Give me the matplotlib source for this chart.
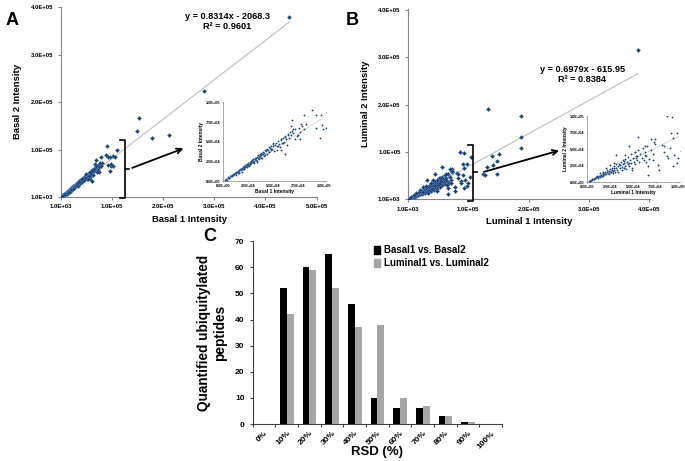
import matplotlib
matplotlib.use("Agg")
import matplotlib.pyplot as plt
from matplotlib.patches import Patch
import numpy as np

plt.rcParams['font.family'] = ['Liberation Sans', 'DejaVu Sans']
plt.rcParams['font.weight'] = 'bold'
plt.rcParams['axes.labelweight'] = 'bold'

# ---- panel A : basal replicates (thousands) ----
basal1 = [2, 3, 4, 5, 5, 6, 7, 8, 8, 9, 10, 10, 11, 12, 12, 13, 13, 14, 15, 15, 16, 16, 17, 18, 18, 19, 19, 20, 20,
          21, 21, 22, 22, 23, 23, 24, 24, 25, 25, 26, 26, 27, 27, 28, 28, 29, 29, 30, 30, 31, 31, 32, 32, 33, 33,
          34, 34, 35, 35, 36, 36, 37, 37, 38, 38, 39, 39, 40, 40, 41, 42, 42, 43, 44, 44, 45, 46, 46, 47, 48, 48,
          49, 50, 50, 51, 52, 53, 54, 55, 56, 57, 58, 59, 60, 61, 62, 63, 64, 65, 66, 67, 68, 69, 70, 72, 73, 75,
          76, 78, 80, 82,
          103, 97, 99, 92, 77, 69, 68, 70, 74, 76, 72, 65, 62, 60, 58, 55, 58, 62, 54, 50, 48, 46, 43, 41, 38, 36,
          34, 32, 30, 27, 25, 24, 21, 19, 16, 13, 9, 6, 3,
          90, 88, 110, 106, 98, 102, 96, 92, 80,
          447, 280, 153, 149, 178, 212]
basal2 = [1, 3, 2, 4, 5, 4, 6, 6, 7, 8, 8, 9, 9, 10, 11, 10, 12, 12, 13, 11, 14, 12, 15, 14, 16, 15, 17, 16, 18,
          17, 19, 18, 20, 19, 21, 20, 22, 21, 23, 22, 19, 24, 22, 23, 25, 24, 27, 25, 28, 26, 23, 28, 30, 27, 29,
          31, 26, 30, 33, 31, 28, 34, 32, 33, 36, 30, 35, 37, 34, 36, 33, 39, 38, 35, 41, 40, 37, 43, 42, 39, 45,
          41, 47, 44, 38, 46, 49, 45, 51, 47, 43, 52, 48, 55, 50, 57, 53, 46, 59, 55, 62, 58, 64, 61, 66, 57, 68,
          63, 70, 66, 73,
          88, 84, 66, 68, 73, 78, 70, 66, 58, 54, 53, 60, 56, 49, 54, 45, 39, 35, 39, 49, 41, 37, 39, 32, 30, 32,
          24, 28, 24, 22, 20, 18, 16, 12, 11, 8, 6, 4, 2,
          109, 90, 100, 84, 71, 67, 55, 84, 84,
          379, 223, 168, 139, 124, 131]

# ---- panel B : luminal replicates (thousands) ----
luminal1 = [2, 3, 4, 5, 6, 7, 8, 9, 10, 10, 11, 12, 12, 13, 14, 14, 15, 15, 16, 17, 17, 18, 18, 19, 20, 20, 21,
            22, 22, 23, 24, 24, 25, 25, 26, 27, 27, 28, 28, 29, 30, 30, 31, 32, 32, 33, 34, 34, 35, 36, 36, 37,
            38, 38, 39, 40, 40, 41, 42, 42, 43, 44, 45, 45, 46, 47, 48, 48, 49, 50, 51, 52, 53, 54, 55, 56, 57,
            58, 60, 61, 62, 63, 65, 66, 68, 70, 72, 74,
            93, 98, 74, 73, 82, 91, 84, 95, 88, 98, 100, 94, 56, 46, 53, 63, 65, 67, 54, 42, 39, 32, 30, 25, 21,
            26, 18, 14, 11, 5, 3, 46, 49, 40, 67, 79, 72,
            87, 104, 92, 94, 84, 103, 89, 78, 70, 64, 55,
            381, 133, 187, 187, 187, 151, 139, 148, 142, 131, 124, 128, 148]
luminal2 = [1, 2, 3, 3, 4, 4, 5, 6, 6, 8, 7, 8, 6, 9, 8, 10, 9, 11, 10, 12, 9, 11, 14, 12, 13, 16, 12,
            15, 18, 14, 17, 12, 16, 20, 15, 19, 22, 17, 14, 21, 18, 24, 16, 22, 27, 19, 24, 15, 28, 21, 26, 30,
            23, 18, 27, 32, 22, 29, 25, 35, 20, 31, 27, 38, 24, 33, 29, 42, 22, 36, 31, 45, 27, 39, 34, 48, 30,
            43, 37, 52, 33, 46, 40, 55, 35, 48, 42, 58,
            99, 74, 65, 61, 56, 51, 46, 41, 39, 29, 36, 24, 69, 54, 46, 41, 31, 24, 36, 41, 34, 41, 29, 26, 21,
            16, 16, 14, 9, 5, 2, 29, 19, 22, 11, 19, 34,
            100, 89, 75, 67, 55, 47, 36, 26, 65, 54, 40,
            316, 190, 176, 131, 109, 97, 91, 82, 72, 69, 54, 52, 54]

# ---- panel C : RSD distribution ----
rsd_labels = ['0%', '10%', '20%', '30%', '40%', '50%', '60%', '70%', '80%', '90%', '100%']
basal_counts = [0, 52, 60, 65, 46, 10, 6, 6, 3, 1, 0]
luminal_counts = [0, 42, 59, 52, 37, 38, 10, 7, 3, 1, 0]

main_ticks_x = [1e3, 1e5, 2e5, 3e5, 4e5, 5e5]
main_labels_x = ['1.0E+03', '1.0E+05', '2.0E+05', '3.0E+05', '4.0E+05', '5.0E+05']
main_ticks_y = [1e3, 1e5, 2e5, 3e5, 4e5]
main_labels_y = ['1.0E+03', '1.0E+05', '2.0E+05', '3.0E+05', '4.0E+05']
inset_ticks = [0, 2.5e4, 5e4, 7.5e4, 1e5]
inset_labels = ['0.0E+00', '2.5E+04', '5.0E+04', '7.5E+04', '1.0E+05']

fit_A = (0.8314, -2068.3)
fit_B = (0.6979, -615.95)

AX_COL = '#868686'
FACE = '#1f3864'
EDGE = '#4f81bd'


def style_axes(ax, lw=0.8):
    for s in ['top', 'right']:
        ax.spines[s].set_visible(False)
    for s in ['left', 'bottom']:
        ax.spines[s].set_color(AX_COL)
        ax.spines[s].set_linewidth(lw)
    ax.tick_params(colors=AX_COL, width=lw, length=2, labelcolor='black')


def scatter_panel(fig, rect, inset_rect, xs, ys, fit, xmax, xticks, xlabels, xname, yname, eq):
    x = np.array(xs) * 1000.0
    y = np.array(ys) * 1000.0
    ax = fig.add_axes(rect)
    style_axes(ax)
    ax.scatter(x, y, marker='D', s=4.5, facecolor=FACE, edgecolor=EDGE, linewidths=0.35, zorder=3)
    xl = np.array([x.min(), x.max()])
    ax.plot(xl, fit[0] * xl + fit[1], color='#bfbfbf', lw=0.8, zorder=2)
    ax.set_xlim(1e3, xmax)
    ax.set_ylim(1e3, 4.01e5)
    ax.set_xticks(xticks)
    ax.set_xticklabels(xlabels, fontsize=4.3, fontweight='bold')
    ax.set_yticks(main_ticks_y)
    ax.set_yticklabels(main_labels_y, fontsize=4.3, fontweight='bold')
    ax.set_xlabel(xname, fontsize=6.8, fontweight='bold', labelpad=4)
    ax.set_ylabel(yname, fontsize=6.8, fontweight='bold', labelpad=6)
    ax.text(eq[0], eq[1], eq[2], transform=ax.transAxes, ha='center', va='top',
            fontsize=6.6, fontweight='bold', linespacing=1.15)

    ins = fig.add_axes(inset_rect)
    style_axes(ins, lw=0.5)
    ins.tick_params(length=1, pad=1)
    ins.scatter(x, y, marker='D', s=1.0, facecolor=FACE, edgecolor=EDGE, linewidths=0.2, zorder=3)
    xi = np.array([0, 1e5])
    ins.plot(xi, fit[0] * xi + fit[1], color='#d0d0d0', lw=0.6, zorder=2)
    ins.set_xlim(0, 1.02e5)
    ins.set_ylim(0, 1.0e5)
    ins.set_xticks(inset_ticks)
    ins.set_xticklabels(inset_labels, fontsize=2.8, fontweight='bold')
    ins.set_yticks(inset_ticks)
    ins.set_yticklabels(inset_labels, fontsize=2.8, fontweight='bold')
    ins.set_xlabel(xname, fontsize=3.5, fontweight='bold', labelpad=1)
    ins.set_ylabel(yname, fontsize=3.5, fontweight='bold', labelpad=1)
    return ax


fig = plt.figure(figsize=(6.85, 4.61), dpi=100)

axA = scatter_panel(fig, [0.089, 0.573, 0.374, 0.412], [0.3255, 0.607, 0.150, 0.171],
                    basal1, basal2, fit_A, 5.01e5, main_ticks_x, main_labels_x,
                    'Basal 1 Intensity', 'Basal 2 Intensity',
                    (0.65, 0.975, 'y = 0.8314x - 2068.3\nR² = 0.9601'))
axB = scatter_panel(fig, [0.596, 0.568, 0.353, 0.412], [0.857, 0.605, 0.136, 0.143],
                    luminal1, luminal2, fit_B, 4.01e5, main_ticks_x[:5], main_labels_x[:5],
                    'Luminal 1 Intensity', 'Luminal 2 Intensity',
                    (0.72, 0.705, 'y = 0.6979x - 615.95\nR² = 0.8384'))

# brackets and arrows pointing to the insets
for ax, bx, top, notch, a0, a1 in [(axA, 1.25e5, 1.2e5, 1.33e5, (1.35e5, 6.0e4), (2.45e5, 1.05e5)),
                                    (axB, 1.08e5, 1.15e5, 1.15e5, (1.22e5, 5.7e4), (2.55e5, 1.05e5))]:
    ax.plot([bx - 0.08e5, bx, bx, bx - 0.08e5], [top, top, -2e3, -2e3], color='black', lw=1.2,
            clip_on=False, zorder=4)
    ax.plot([bx, notch], [5.9e4, 5.9e4], color='black', lw=1.2, clip_on=False, zorder=4)
    ax.annotate('', xy=a1, xytext=a0,
                arrowprops=dict(arrowstyle='->', lw=1.3, color='black', mutation_scale=9))

# ---- panel C ----
axC = fig.add_axes([0.369, 0.080, 0.364, 0.397])
for s in ['top', 'right']:
    axC.spines[s].set_visible(False)
for s in ['left', 'bottom']:
    axC.spines[s].set_color('#404040')
    axC.spines[s].set_linewidth(0.8)
pos = np.arange(len(rsd_labels))
axC.bar(pos - 0.15, basal_counts, width=0.3, color='black', zorder=3)
axC.bar(pos + 0.15, luminal_counts, width=0.3, color='#a6a6a6', zorder=3)
axC.set_xlim(-0.5, 10.5)
axC.set_ylim(0, 70)
axC.set_yticks(range(0, 71, 10))
axC.set_yticklabels([str(v) for v in range(0, 71, 10)], fontweight='bold')
axC.tick_params(axis='y', labelsize=6, length=2.5, width=0.8, color='#404040')
axC.set_xticks(pos)
axC.set_xticklabels(rsd_labels, rotation=45, ha='right', rotation_mode='anchor', fontsize=6,
                    fontweight='bold')
axC.tick_params(axis='x', which='major', length=0, pad=4)
axC.set_xticks(np.arange(-0.5, 11, 1), minor=True)
axC.tick_params(axis='x', which='minor', length=2.5, width=0.8, color='#404040')
axC.set_xlabel('RSD (%)', fontsize=9.5, fontweight='bold', labelpad=-3)
axC.set_ylabel('Quantified ubiquitylated\npeptides', fontsize=9.8, fontweight='bold',
               labelpad=6, linespacing=1.1)
axC.legend(handles=[Patch(color='black'), Patch(color='#a6a6a6')],
           labels=['Basal1 vs. Basal2', 'Luminal1 vs. Luminal2'],
           loc='upper left', bbox_to_anchor=(0.47, 1.0), frameon=False,
           prop={'size': 7, 'weight': 'bold'},
           handlelength=0.6, handleheight=0.9, handletextpad=0.4, labelspacing=0.35,
           borderaxespad=0)

fig.text(0.008, 0.975, 'A', fontsize=13, fontweight='bold', va='top')
fig.text(0.505, 0.975, 'B', fontsize=13, fontweight='bold', va='top')
fig.text(0.296, 0.505, 'C', fontsize=13, fontweight='bold', va='top')

fig.savefig('out.png', dpi=100)
